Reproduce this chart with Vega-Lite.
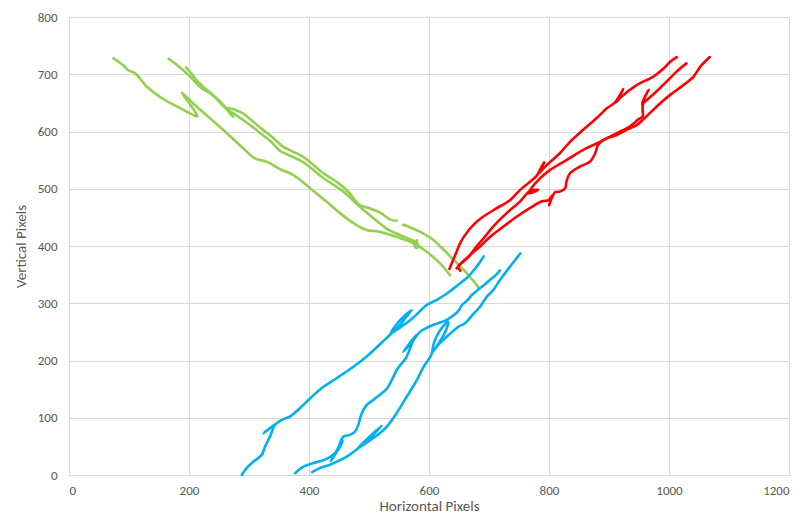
{
  "$schema": "https://vega.github.io/schema/vega-lite/v6.json",
  "width": 720,
  "height": 458,
  "autosize": {"type": "none"},
  "padding": {"left": 69, "top": 17, "right": 16, "bottom": 43},
  "background": "white",
  "config": {
    "view": {"stroke": null},
    "font": "Carlito, Liberation Sans, sans-serif",
    "axis": {
      "gridColor": "#D9D9D9",
      "gridWidth": 1,
      "domain": false,
      "ticks": false,
      "labelColor": "#595959",
      "labelFontSize": 13,
      "titleColor": "#595959",
      "titleFontSize": 15,
      "titleFontWeight": "normal"
    }
  },
  "data": {
    "values": [
      {"g":"green","s":1,"x":74,"y":728},{"g":"green","s":1,"x":90,"y":716},{"g":"green","s":1,"x":99,"y":707},{"g":"green","s":1,"x":110,"y":702},{"g":"green","s":1,"x":129,"y":679},{"g":"green","s":1,"x":152,"y":660},{"g":"green","s":1,"x":185,"y":641},{"g":"green","s":1,"x":205,"y":630},{"g":"green","s":1,"x":214,"y":626},{"g":"green","s":1,"x":211,"y":633},{"g":"green","s":1,"x":200,"y":650},{"g":"green","s":1,"x":188,"y":668},{"g":"green","s":1,"x":207,"y":649},{"g":"green","s":1,"x":235,"y":623},{"g":"green","s":1,"x":263,"y":597},{"g":"green","s":1,"x":290,"y":571},{"g":"green","s":1,"x":310,"y":553},{"g":"green","s":1,"x":330,"y":547},{"g":"green","s":1,"x":352,"y":534},{"g":"green","s":1,"x":374,"y":524},{"g":"green","s":1,"x":402,"y":501},{"g":"green","s":1,"x":428,"y":478},{"g":"green","s":1,"x":415,"y":490},{"g":"green","s":1,"x":432,"y":475},{"g":"green","s":1,"x":452,"y":457},{"g":"green","s":1,"x":474,"y":440},{"g":"green","s":1,"x":496,"y":428},{"g":"green","s":1,"x":518,"y":425},{"g":"green","s":1,"x":546,"y":416},{"g":"green","s":1,"x":574,"y":405},{"g":"green","s":1,"x":596,"y":390},{"g":"green","s":1,"x":618,"y":370},{"g":"green","s":1,"x":635,"y":349},
      {"g":"green","s":2,"x":166,"y":727},{"g":"green","s":2,"x":185,"y":712},{"g":"green","s":2,"x":202,"y":696},{"g":"green","s":2,"x":218,"y":678},{"g":"green","s":2,"x":235,"y":667},{"g":"green","s":2,"x":249,"y":655},{"g":"green","s":2,"x":260,"y":643},{"g":"green","s":2,"x":268,"y":632},{"g":"green","s":2,"x":274,"y":625},{"g":"green","s":2,"x":266,"y":637},{"g":"green","s":2,"x":263,"y":641},{"g":"green","s":2,"x":276,"y":638},{"g":"green","s":2,"x":291,"y":631},{"g":"green","s":2,"x":307,"y":617},{"g":"green","s":2,"x":322,"y":604},{"g":"green","s":2,"x":339,"y":590},{"g":"green","s":2,"x":356,"y":574},{"g":"green","s":2,"x":373,"y":565},{"g":"green","s":2,"x":390,"y":556},{"g":"green","s":2,"x":407,"y":542},{"g":"green","s":2,"x":424,"y":527},{"g":"green","s":2,"x":450,"y":509},{"g":"green","s":2,"x":467,"y":493},{"g":"green","s":2,"x":484,"y":472},{"g":"green","s":2,"x":501,"y":466},{"g":"green","s":2,"x":519,"y":458},{"g":"green","s":2,"x":536,"y":446},{"g":"green","s":2,"x":546,"y":444},
      {"g":"green","s":3,"x":195,"y":712},{"g":"green","s":3,"x":205,"y":700},{"g":"green","s":3,"x":214,"y":688},{"g":"green","s":3,"x":226,"y":676},{"g":"green","s":3,"x":240,"y":664},{"g":"green","s":3,"x":252,"y":650},{"g":"green","s":3,"x":262,"y":640},{"g":"green","s":3,"x":272,"y":633},{"g":"green","s":3,"x":290,"y":620},{"g":"green","s":3,"x":305,"y":609},{"g":"green","s":3,"x":320,"y":596},{"g":"green","s":3,"x":337,"y":582},{"g":"green","s":3,"x":352,"y":566},{"g":"green","s":3,"x":370,"y":557},{"g":"green","s":3,"x":388,"y":548},{"g":"green","s":3,"x":405,"y":535},{"g":"green","s":3,"x":422,"y":520},{"g":"green","s":3,"x":445,"y":504},{"g":"green","s":3,"x":462,"y":491},{"g":"green","s":3,"x":478,"y":475},{"g":"green","s":3,"x":492,"y":462},{"g":"green","s":3,"x":507,"y":449},{"g":"green","s":3,"x":530,"y":430},{"g":"green","s":3,"x":552,"y":419},{"g":"green","s":3,"x":570,"y":411},{"g":"green","s":3,"x":580,"y":405},{"g":"green","s":3,"x":582,"y":398},{"g":"green","s":3,"x":578,"y":397},{"g":"green","s":3,"x":576,"y":404},{"g":"green","s":3,"x":580,"y":410},
      {"g":"green","s":4,"x":557,"y":437},{"g":"green","s":4,"x":570,"y":432},{"g":"green","s":4,"x":585,"y":425},{"g":"green","s":4,"x":598,"y":417},{"g":"green","s":4,"x":608,"y":410},{"g":"green","s":4,"x":618,"y":400},{"g":"green","s":4,"x":626,"y":392},{"g":"green","s":4,"x":636,"y":381},{"g":"green","s":4,"x":645,"y":372},{"g":"green","s":4,"x":652,"y":364},{"g":"green","s":4,"x":661,"y":355},{"g":"green","s":4,"x":668,"y":346},{"g":"green","s":4,"x":675,"y":338},{"g":"green","s":4,"x":680,"y":331},{"g":"green","s":4,"x":683,"y":326},
      {"g":"red","s":5,"x":634,"y":360},{"g":"red","s":5,"x":640,"y":375},{"g":"red","s":5,"x":646,"y":390},{"g":"red","s":5,"x":652,"y":405},{"g":"red","s":5,"x":660,"y":419},{"g":"red","s":5,"x":674,"y":437},{"g":"red","s":5,"x":690,"y":451},{"g":"red","s":5,"x":713,"y":466},{"g":"red","s":5,"x":735,"y":480},{"g":"red","s":5,"x":752,"y":498},{"g":"red","s":5,"x":768,"y":512},{"g":"red","s":5,"x":779,"y":522},{"g":"red","s":5,"x":792,"y":546},{"g":"red","s":5,"x":781,"y":525},{"g":"red","s":5,"x":796,"y":541},{"g":"red","s":5,"x":818,"y":562},{"g":"red","s":5,"x":835,"y":582},{"g":"red","s":5,"x":857,"y":603},{"g":"red","s":5,"x":879,"y":623},{"g":"red","s":5,"x":896,"y":640},{"g":"red","s":5,"x":910,"y":651},{"g":"red","s":5,"x":924,"y":674},{"g":"red","s":5,"x":912,"y":651},{"g":"red","s":5,"x":920,"y":660},{"g":"red","s":5,"x":946,"y":681},{"g":"red","s":5,"x":974,"y":696},{"g":"red","s":5,"x":991,"y":710},{"g":"red","s":5,"x":1002,"y":722},{"g":"red","s":5,"x":1013,"y":730},
      {"g":"red","s":6,"x":1029,"y":719},{"g":"red","s":6,"x":1013,"y":705},{"g":"red","s":6,"x":996,"y":687},{"g":"red","s":6,"x":979,"y":670},{"g":"red","s":6,"x":963,"y":655},{"g":"red","s":6,"x":955,"y":648},{"g":"red","s":6,"x":966,"y":673},{"g":"red","s":6,"x":957,"y":652},{"g":"red","s":6,"x":956,"y":640},{"g":"red","s":6,"x":956,"y":626},{"g":"red","s":6,"x":950,"y":622},{"g":"red","s":6,"x":935,"y":609},{"g":"red","s":6,"x":913,"y":597},{"g":"red","s":6,"x":885,"y":582},{"g":"red","s":6,"x":857,"y":568},{"g":"red","s":6,"x":829,"y":550},{"g":"red","s":6,"x":802,"y":533},{"g":"red","s":6,"x":785,"y":518},{"g":"red","s":6,"x":770,"y":500},{"g":"red","s":6,"x":766,"y":492},{"g":"red","s":6,"x":782,"y":498},{"g":"red","s":6,"x":768,"y":496},{"g":"red","s":6,"x":752,"y":478},{"g":"red","s":6,"x":729,"y":457},{"g":"red","s":6,"x":707,"y":434},{"g":"red","s":6,"x":693,"y":416},{"g":"red","s":6,"x":679,"y":399},{"g":"red","s":6,"x":666,"y":381},{"g":"red","s":6,"x":654,"y":370},{"g":"red","s":6,"x":646,"y":361},
      {"g":"red","s":7,"x":1068,"y":730},{"g":"red","s":7,"x":1052,"y":713},{"g":"red","s":7,"x":1041,"y":696},{"g":"red","s":7,"x":1024,"y":681},{"g":"red","s":7,"x":1002,"y":664},{"g":"red","s":7,"x":985,"y":649},{"g":"red","s":7,"x":968,"y":632},{"g":"red","s":7,"x":956,"y":620},{"g":"red","s":7,"x":946,"y":611},{"g":"red","s":7,"x":929,"y":603},{"g":"red","s":7,"x":913,"y":594},{"g":"red","s":7,"x":896,"y":588},{"g":"red","s":7,"x":882,"y":577},{"g":"red","s":7,"x":877,"y":562},{"g":"red","s":7,"x":868,"y":547},{"g":"red","s":7,"x":852,"y":539},{"g":"red","s":7,"x":835,"y":527},{"g":"red","s":7,"x":829,"y":512},{"g":"red","s":7,"x":827,"y":501},{"g":"red","s":7,"x":818,"y":495},{"g":"red","s":7,"x":810,"y":494},{"g":"red","s":7,"x":800,"y":471},{"g":"red","s":7,"x":805,"y":488},{"g":"red","s":7,"x":799,"y":480},{"g":"red","s":7,"x":788,"y":478},{"g":"red","s":7,"x":768,"y":466},{"g":"red","s":7,"x":746,"y":451},{"g":"red","s":7,"x":724,"y":434},{"g":"red","s":7,"x":702,"y":416},{"g":"red","s":7,"x":685,"y":399},{"g":"red","s":7,"x":668,"y":384},{"g":"red","s":7,"x":657,"y":373},{"g":"red","s":7,"x":649,"y":364},{"g":"red","s":7,"x":652,"y":357},
      {"g":"blue","s":8,"x":288,"y":0},{"g":"blue","s":8,"x":296,"y":12},{"g":"blue","s":8,"x":307,"y":23},{"g":"blue","s":8,"x":321,"y":35},{"g":"blue","s":8,"x":327,"y":50},{"g":"blue","s":8,"x":335,"y":67},{"g":"blue","s":8,"x":343,"y":87},{"g":"blue","s":8,"x":350,"y":93},{"g":"blue","s":8,"x":324,"y":73},{"g":"blue","s":8,"x":354,"y":96},{"g":"blue","s":8,"x":368,"y":102},{"g":"blue","s":8,"x":385,"y":117},{"g":"blue","s":8,"x":402,"y":134},{"g":"blue","s":8,"x":424,"y":154},{"g":"blue","s":8,"x":446,"y":169},{"g":"blue","s":8,"x":474,"y":189},{"g":"blue","s":8,"x":496,"y":207},{"g":"blue","s":8,"x":518,"y":228},{"g":"blue","s":8,"x":532,"y":242},{"g":"blue","s":8,"x":548,"y":258},{"g":"blue","s":8,"x":562,"y":276},{"g":"blue","s":8,"x":571,"y":288},{"g":"blue","s":8,"x":558,"y":277},{"g":"blue","s":8,"x":545,"y":262},{"g":"blue","s":8,"x":536,"y":247},{"g":"blue","s":8,"x":552,"y":258},{"g":"blue","s":8,"x":566,"y":268},{"g":"blue","s":8,"x":580,"y":281},{"g":"blue","s":8,"x":596,"y":297},{"g":"blue","s":8,"x":613,"y":306},{"g":"blue","s":8,"x":630,"y":317},{"g":"blue","s":8,"x":641,"y":326},{"g":"blue","s":8,"x":652,"y":335},{"g":"blue","s":8,"x":663,"y":344},{"g":"blue","s":8,"x":675,"y":358},{"g":"blue","s":8,"x":685,"y":372},{"g":"blue","s":8,"x":691,"y":382},
      {"g":"blue","s":9,"x":377,"y":3},{"g":"blue","s":9,"x":390,"y":14},{"g":"blue","s":9,"x":405,"y":20},{"g":"blue","s":9,"x":424,"y":26},{"g":"blue","s":9,"x":437,"y":33},{"g":"blue","s":9,"x":450,"y":46},{"g":"blue","s":9,"x":456,"y":60},{"g":"blue","s":9,"x":436,"y":24},{"g":"blue","s":9,"x":447,"y":42},{"g":"blue","s":9,"x":457,"y":67},{"g":"blue","s":9,"x":468,"y":70},{"g":"blue","s":9,"x":477,"y":76},{"g":"blue","s":9,"x":482,"y":87},{"g":"blue","s":9,"x":488,"y":108},{"g":"blue","s":9,"x":496,"y":122},{"g":"blue","s":9,"x":507,"y":131},{"g":"blue","s":9,"x":518,"y":140},{"g":"blue","s":9,"x":530,"y":151},{"g":"blue","s":9,"x":538,"y":166},{"g":"blue","s":9,"x":546,"y":183},{"g":"blue","s":9,"x":552,"y":192},{"g":"blue","s":9,"x":561,"y":203},{"g":"blue","s":9,"x":568,"y":220},{"g":"blue","s":9,"x":574,"y":236},{"g":"blue","s":9,"x":579,"y":245},{"g":"blue","s":9,"x":557,"y":215},{"g":"blue","s":9,"x":572,"y":233},{"g":"blue","s":9,"x":585,"y":250},{"g":"blue","s":9,"x":596,"y":257},{"g":"blue","s":9,"x":612,"y":264},{"g":"blue","s":9,"x":628,"y":270},{"g":"blue","s":9,"x":640,"y":278},{"g":"blue","s":9,"x":650,"y":288},{"g":"blue","s":9,"x":655,"y":297},{"g":"blue","s":9,"x":664,"y":305},{"g":"blue","s":9,"x":671,"y":314},{"g":"blue","s":9,"x":685,"y":326},{"g":"blue","s":9,"x":702,"y":341},{"g":"blue","s":9,"x":712,"y":350},{"g":"blue","s":9,"x":718,"y":357},
      {"g":"blue","s":10,"x":405,"y":5},{"g":"blue","s":10,"x":418,"y":12},{"g":"blue","s":10,"x":435,"y":18},{"g":"blue","s":10,"x":450,"y":25},{"g":"blue","s":10,"x":463,"y":32},{"g":"blue","s":10,"x":480,"y":45},{"g":"blue","s":10,"x":500,"y":63},{"g":"blue","s":10,"x":521,"y":86},{"g":"blue","s":10,"x":505,"y":71},{"g":"blue","s":10,"x":486,"y":52},{"g":"blue","s":10,"x":481,"y":46},{"g":"blue","s":10,"x":502,"y":61},{"g":"blue","s":10,"x":518,"y":73},{"g":"blue","s":10,"x":530,"y":85},{"g":"blue","s":10,"x":546,"y":108},{"g":"blue","s":10,"x":563,"y":137},{"g":"blue","s":10,"x":580,"y":166},{"g":"blue","s":10,"x":591,"y":189},{"g":"blue","s":10,"x":604,"y":210},{"g":"blue","s":10,"x":608,"y":230},{"g":"blue","s":10,"x":618,"y":252},{"g":"blue","s":10,"x":632,"y":268},{"g":"blue","s":10,"x":628,"y":252},{"g":"blue","s":10,"x":616,"y":230},{"g":"blue","s":10,"x":604,"y":212},{"g":"blue","s":10,"x":616,"y":228},{"g":"blue","s":10,"x":630,"y":242},{"g":"blue","s":10,"x":649,"y":259},{"g":"blue","s":10,"x":660,"y":265},{"g":"blue","s":10,"x":673,"y":280},{"g":"blue","s":10,"x":685,"y":294},{"g":"blue","s":10,"x":696,"y":311},{"g":"blue","s":10,"x":707,"y":323},{"g":"blue","s":10,"x":718,"y":340},{"g":"blue","s":10,"x":735,"y":364},{"g":"blue","s":10,"x":744,"y":376},{"g":"blue","s":10,"x":752,"y":387}
    ]
  },
  "mark": {"type": "line", "strokeWidth": 2.6, "strokeCap": "round", "strokeJoin": "round", "interpolate": "catmull-rom"},
  "encoding": {
    "x": {"field": "x", "type": "quantitative", "title": "Horizontal Pixels", "scale": {"domain": [0, 1200], "nice": false}, "axis": {"values": [0, 200, 400, 600, 800, 1000, 1200], "format": "d", "labelPadding": 9, "titlePadding": 1, "domain": true, "domainColor": "#D9D9D9"}},
    "y": {"field": "y", "type": "quantitative", "title": "Vertical Pixels", "scale": {"domain": [0, 800], "nice": false}, "axis": {"values": [0, 100, 200, 300, 400, 500, 600, 700, 800], "format": "d", "labelPadding": 12, "titlePadding": 9}},
    "color": {"field": "g", "type": "nominal", "scale": {"domain": ["green", "red", "blue"], "range": ["#92D050", "#FF0000", "#00B0F0"]}, "legend": null},
    "detail": {"field": "s", "type": "nominal"},
    "order": {"value": null}
  }
}
